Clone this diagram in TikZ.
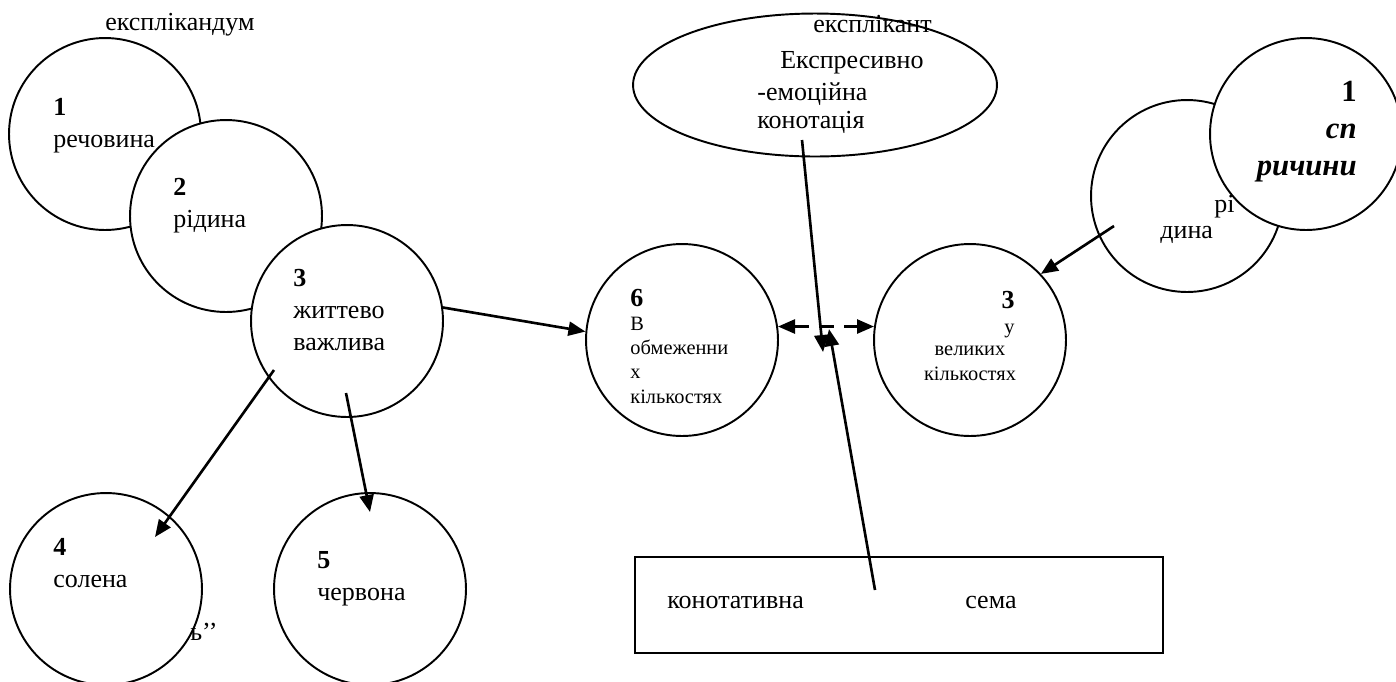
\documentclass[tikz,border=0pt]{standalone}
\usepackage{fontspec}
\setmainfont{Liberation Serif}
\usetikzlibrary{arrows.meta,shapes.geometric}
\newcommand{\circfont}{\fontsize{14.8}{18}\selectfont}
\newcommand{\notefont}{\fontsize{11.6}{13.8}\selectfont}
\newcommand{\causefont}{\fontsize{17.5}{21}\selectfont}
\tikzset{
  bubble/.style={circle, draw, line width=1.1pt, fill=white, minimum size=3.84cm, inner sep=0pt},
  label text/.style={anchor=base west, inner sep=0pt, align=left, font=\circfont},
  note text/.style={anchor=base west, inner sep=0pt, align=left, font=\notefont},
  link/.style={line width=1.5pt, -{Triangle[length=0.34cm,width=0.28cm]}},
}

\begin{document}
\begin{tikzpicture}[x=0.02cm, y=-0.02cm]
  \useasboundingbox (0,0) rectangle (1396,681);

  %%%%% explicandum %%%%%
  \node[label text] (expl) at (105,30) {експлікандум};

  % (text nodes sit on the baseline of their last line)
  \node[bubble] (c1) at (105,134) {};
  \node[label text] (t1) at (53,147) {\textbf{1}\\речовина};
  \node[bubble] (c2) at (226,216) {};
  \node[label text] (t2) at (173,227) {\textbf{2}\\рідина};
  \node[bubble] (c3) at (347,321) {};
  \node[label text] (t3) at (293,350) {\textbf{3}\\життево\\важлива};

  \node[bubble] (c4) at (106,589) {};
  \node[label text] (t4) at (53,587) {\textbf{4}\\солена};
  \node[label text] (t4b) at (190,640) {ь’’};
  \node[bubble] (c5) at (370,589) {};
  \node[label text] (t5) at (317,600) {\textbf{5}\\червона};

  \node[bubble] (c6) at (682,340) {};
  \node[note text] (t6) at (630,403) {{\circfont\textbf{6}}\\В\\обмеженни\\х\\кількостях};
  \node[bubble] (c7) at (970,340) {};
  \node[note text, anchor=base east, align=right] (t7a) at (1015,333) {{\circfont\textbf{3}}\\у};
  \node[note text, anchor=base, align=center] (t7b) at (970,380) {великих\\кількостях};

  \node[bubble] (c8) at (1187,196) {};
  \node[label text] (t8a) at (1214,212) {рі};
  \node[label text] (t8b) at (1160,238) {дина};
  \node[bubble] (c9) at (1306,134) {};
  \node[label text, font=\causefont\bfseries, anchor=base east, align=right] (t9) at (1357,175)
    {1\\\textit{сп}\\\textit{ричини}};

  %%%%% explicans %%%%%
  \node[ellipse, draw, line width=1.1pt, minimum width=7.28cm, minimum height=2.86cm] (ek) at (815,85) {};
  \node[label text] (ek1) at (813,32) {експлікант};
  \node[label text] (ek2) at (780,68) {Експресивно};
  \node[label text] (ek3) at (757,100) {-емоційна};
  \node[label text] (ek4) at (757,128) {конотація};

  \node[draw, line width=1.5pt, minimum width=10.56cm, minimum height=1.92cm] (sema) at (899,605) {};
  \node[label text] (s1) at (667,608) {конотативна};
  \node[label text] (s2) at (965,608) {сема};

  %%%%% arrows %%%%%
  \coordinate (c3a) at (274,370);
  \coordinate (c4a) at (155,537);
  \coordinate (c3b) at (346,393);
  \coordinate (c5a) at (370,512);
  \coordinate (c8a) at (1114,226);
  \coordinate (eka) at (802,140);
  \coordinate (ekb) at (823,352);
  \coordinate (semaa) at (875,590);
  \coordinate (semab) at (829,329);

  \draw[link] (c3.8) -- (c6.175);
  \draw[link] (c3a) -- (c4a);
  \draw[link] (c3b) -- (c5a);
  \draw[link] (c8a) -- (c7.43);
  \draw[link, dash pattern=on 0.3cm off 0.2cm, {Triangle[length=0.34cm,width=0.28cm]}-{Triangle[length=0.34cm,width=0.28cm]}] (c6.8) -- (c7.172);
  \draw[link] (eka) -- (ekb);
  \draw[link] (semaa) -- (semab);
\end{tikzpicture}
\end{document}
